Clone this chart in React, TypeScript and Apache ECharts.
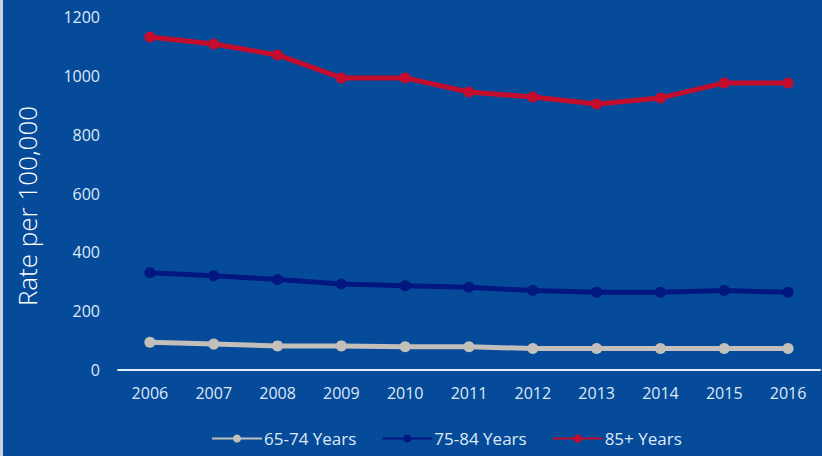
import React, { useEffect, useRef } from "react";
import * as echarts from "echarts";

const years = ["2006", "2007", "2008", "2009", "2010", "2011", "2012", "2013", "2014", "2015", "2016"];
const age65to74 = [94, 88, 82, 82, 79, 79, 73, 73, 73, 73, 73];
const age75to84 = [331, 320, 308, 292, 286, 281, 270, 264, 264, 270, 264];
const age85plus = [1132, 1108, 1071, 993, 993, 945, 928, 904, 925, 976, 976];
const seriesNames = ["65-74 Years", "75-84 Years", "85+ Years"];
const yTitle = "Rate per 100,000";

const BG = "#054B9A";
const TXT = "#dfe9f5";

export default function App() {
  const ref = useRef<HTMLDivElement>(null);
  useEffect(() => {
    document.body.style.margin = "0";
    const chart = echarts.init(ref.current!, undefined, { renderer: "svg" });
    const mk = (name: string, data: number[], color: string, width: number) => ({
      name,
      type: "line",
      data,
      symbol: "circle",
      symbolSize: 11,
      lineStyle: { color, width },
      itemStyle: { color },
      emphasis: { disabled: true },
    });
    chart.setOption({
      animation: false,
      backgroundColor: BG,
      textStyle: { fontFamily: "Open Sans" },
      graphic: [
        { type: "rect", left: 0, top: 0, shape: { width: 3, height: 456 }, style: { fill: "#c9d3e0" } },
        {
          type: "text",
          x: 27,
          y: 206,
          rotation: Math.PI / 2,
          style: {
            text: yTitle,
            fill: "#ffffff",
            fontSize: 26,
            fontFamily: "Open Sans",
            fontWeight: 300,
            align: "center",
            verticalAlign: "middle",
          },
        },
      ],
      grid: { left: 118, right: 2, top: 17, bottom: 86, containLabel: false },
      xAxis: {
        type: "category",
        data: years,
        boundaryGap: true,
        axisLine: { lineStyle: { color: "#e6eef8", width: 2 } },
        axisTick: { show: false },
        axisLabel: { color: TXT, fontSize: 16, margin: 15, fontFamily: "Open Sans" },
      },
      yAxis: {
        type: "value",
        min: 0,
        max: 1200,
        interval: 200,
        splitLine: { show: false },
        axisLine: { show: false },
        axisTick: { show: false },
        axisLabel: {
          color: TXT,
          fontSize: 16,
          margin: 18,
          fontFamily: "Open Sans",
          formatter: (v: number) => String(v),
        },
      },
      legend: {
        data: seriesNames,
        bottom: 4,
        left: 206,
        itemWidth: 50,
        itemHeight: 10,
        itemGap: 25,
        textStyle: { color: TXT, fontSize: 17, fontFamily: "Open Sans", padding: [0, 0, 0, -3] },
      },
      series: [
        mk(seriesNames[0], age65to74, "#c3bfbb", 5),
        mk(seriesNames[1], age75to84, "#02177f", 5),
        mk(seriesNames[2], age85plus, "#c40c2c", 5),
      ],
    });
    return () => chart.dispose();
  }, []);
  return <div ref={ref} style={{ width: 822, height: 456 }} />;
}
